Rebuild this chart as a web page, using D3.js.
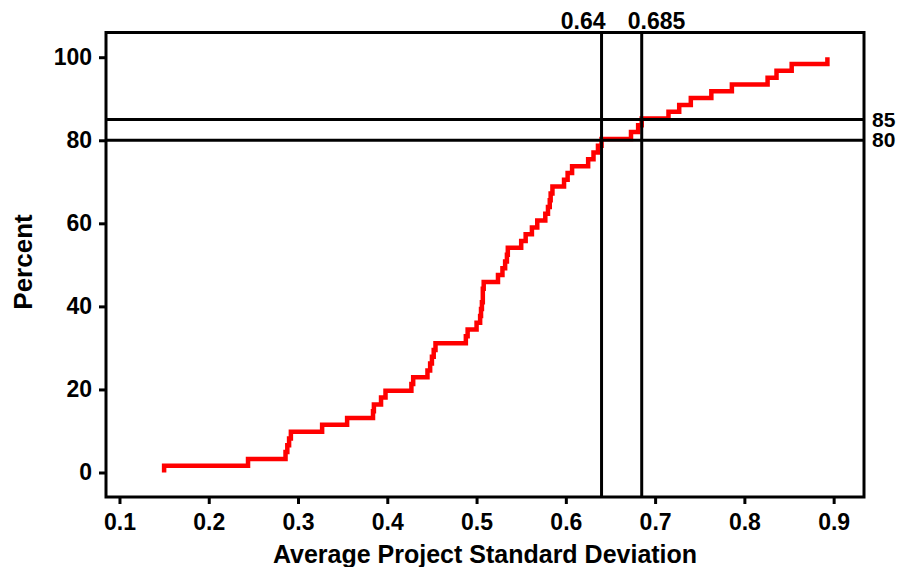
<!DOCTYPE html>
<html>
<head>
<meta charset="utf-8">
<script src="https://cdn.jsdelivr.net/npm/d3@7/dist/d3.min.js"></script>
<style>
  html, body { margin: 0; padding: 0; background: #fff; }
  svg { display: block; font-family: "Liberation Sans", Arial, sans-serif; font-weight: bold; }
</style>
</head>
<body>
<svg id="chart" width="902" height="567"></svg>
<script>
// ---- data ----
const stdDevValues = [
  0.150, 0.244, 0.286, 0.288, 0.290, 0.292, 0.327, 0.355, 0.384, 0.385,
  0.393, 0.398, 0.427, 0.429, 0.445, 0.448, 0.450, 0.452, 0.454, 0.488,
  0.490, 0.500, 0.504, 0.505, 0.506, 0.507, 0.507, 0.508, 0.524, 0.529,
  0.532, 0.534, 0.535, 0.550, 0.555, 0.562, 0.568, 0.577, 0.580, 0.582,
  0.583, 0.585, 0.598, 0.602, 0.607, 0.625, 0.631, 0.636, 0.640, 0.673,
  0.681, 0.685, 0.715, 0.727, 0.740, 0.763, 0.786, 0.826, 0.836, 0.853,
  0.893
];
const percentValues = [
  1.64, 3.28, 4.92, 6.56, 8.20, 9.84, 11.48, 13.11, 14.75, 16.39,
  18.03, 19.67, 21.31, 22.95, 24.59, 26.23, 27.87, 29.51, 31.15, 32.79,
  34.43, 36.07, 37.70, 39.34, 40.98, 42.62, 44.26, 45.90, 47.54, 49.18,
  50.82, 52.46, 54.10, 55.74, 57.38, 59.02, 60.66, 62.30, 63.93, 65.57,
  67.21, 68.85, 70.49, 72.13, 73.77, 75.41, 77.05, 78.69, 80.33, 81.97,
  83.61, 85.25, 86.89, 88.52, 90.16, 91.80, 93.44, 95.08, 96.72, 98.36,
  100.00
];
const xTicks = [0.1, 0.2, 0.3, 0.4, 0.5, 0.6, 0.7, 0.8, 0.9];
const yTicks = [0, 20, 40, 60, 80, 100];
const refX = [0.64, 0.685];
const refXLabels = ["0.64", "0.685"];
const refY = [85, 80];
const refYLabels = ["85", "80"];
const xTitle = "Average Project Standard Deviation";
const yTitle = "Percent";

// ---- layout ----
const svg = d3.select("#chart");
const L = 106, R = 864, T = 32.5, B = 497;

const x = d3.scaleLinear().domain([0.0849, 0.934]).range([L, R]);
const y = d3.scaleLinear().domain([-5.9, 105.95]).range([B, T]);

// step curve (empirical CDF)
const pts = [[stdDevValues[0], 0]].concat(stdDevValues.map((v, i) => [v, percentValues[i]]));
const line = d3.line().x(d => x(d[0])).y(d => y(d[1])).curve(d3.curveStepAfter);

svg.append("path")
  .attr("d", line(pts))
  .attr("fill", "none")
  .attr("stroke", "#ff0000")
  .attr("stroke-width", 4.5)
  .attr("stroke-linejoin", "miter")
  .attr("stroke-linecap", "butt");

// reference lines
svg.selectAll("line.refx").data(refX).enter().append("line")
  .attr("class", "refx")
  .attr("x1", d => x(d)).attr("x2", d => x(d))
  .attr("y1", T).attr("y2", B)
  .attr("stroke", "#000").attr("stroke-width", 3);

svg.selectAll("line.refy").data(refY).enter().append("line")
  .attr("class", "refy")
  .attr("x1", L).attr("x2", R)
  .attr("y1", d => y(d)).attr("y2", d => y(d))
  .attr("stroke", "#000").attr("stroke-width", 3);

// frame
svg.append("rect")
  .attr("x", L).attr("y", T)
  .attr("width", R - L).attr("height", B - T)
  .attr("fill", "none").attr("stroke", "#000").attr("stroke-width", 3);

// axes
const xAxis = d3.axisBottom(x).tickValues(xTicks).tickFormat(d3.format(".1f")).tickSize(7).tickPadding(10);
const yAxis = d3.axisLeft(y).tickValues(yTicks).tickFormat(d3.format("d")).tickSize(7).tickPadding(7);

const gx = svg.append("g").attr("transform", `translate(0,${B})`).call(xAxis);
const gy = svg.append("g").attr("transform", `translate(${L},0)`).call(yAxis);
[gx, gy].forEach(g => {
  g.select(".domain").remove();
  g.selectAll(".tick line").attr("stroke", "#000").attr("stroke-width", 3);
  g.selectAll(".tick text").attr("fill", "#000").style("font-size", "23px").style("font-weight", "bold")
    .style("font-family", "'Liberation Sans', Arial, sans-serif");
});

// reference labels
svg.append("text")
  .attr("x", x(refX[0]) + 4).attr("y", 28.5)
  .attr("text-anchor", "end")
  .style("font-size", "23px")
  .text(refXLabels[0]);
svg.append("text")
  .attr("x", x(refX[1]) - 14).attr("y", 28.5)
  .attr("text-anchor", "start")
  .style("font-size", "23px")
  .text(refXLabels[1]);

svg.append("text")
  .attr("x", R + 8).attr("y", y(refY[0]) + 7)
  .style("font-size", "21px")
  .text(refYLabels[0]);
svg.append("text")
  .attr("x", R + 8).attr("y", y(refY[1]) + 7)
  .style("font-size", "21px")
  .text(refYLabels[1]);

// axis titles
svg.append("text")
  .attr("x", 485).attr("y", 563)
  .attr("text-anchor", "middle")
  .style("font-size", "25px")
  .text(xTitle);

svg.append("text")
  .attr("transform", "translate(32,262) rotate(-90)")
  .attr("text-anchor", "middle")
  .style("font-size", "26px")
  .text(yTitle);
</script>
</body>
</html>
